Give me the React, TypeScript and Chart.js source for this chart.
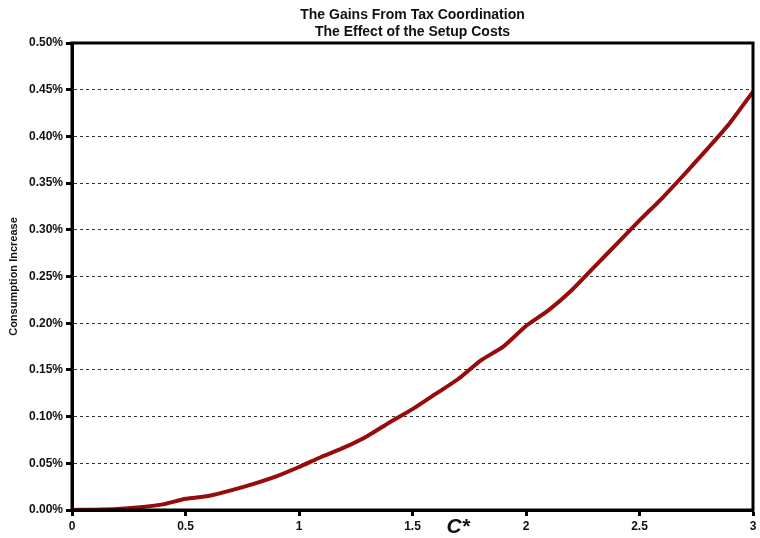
import { useEffect, useRef } from "react";
import { Chart, registerables } from "chart.js";

Chart.register(...registerables);

const titleLines = ["The Gains From Tax Coordination", "The Effect of the Setup Costs"];
const xAxisTitle = "C*";
const yAxisTitle = "Consumption Increase";

// setup cost C* (x) and consumption increase in percent (y)
const setupCost = [
  0, 0.1, 0.2, 0.3, 0.4, 0.5, 0.6, 0.7, 0.8, 0.9, 1.0,
  1.1, 1.2, 1.3, 1.4, 1.5, 1.6, 1.7, 1.8, 1.9, 2.0,
  2.1, 2.2, 2.3, 2.4, 2.5, 2.6, 2.7, 2.8, 2.9, 3.0,
];
const consumptionIncrease = [
  0, 0.0003, 0.001, 0.003, 0.006, 0.012, 0.015, 0.021, 0.028, 0.036, 0.046,
  0.057, 0.067, 0.079, 0.094, 0.108, 0.124, 0.14, 0.16, 0.175, 0.197,
  0.214, 0.235, 0.26, 0.285, 0.31, 0.334, 0.36, 0.387, 0.415, 0.448,
];

const FONT = "'Liberation Sans', Arial, Helvetica, sans-serif";

export default function App() {
  const ref = useRef<HTMLCanvasElement>(null);

  useEffect(() => {
    if (!ref.current) return;
    const framePlugin = {
      id: "frame",
      afterDatasetsDraw(chart: any) {
        const { ctx, chartArea } = chart;
        ctx.save();
        ctx.strokeStyle = "#000";
        ctx.lineWidth = 3;
        ctx.strokeRect(chartArea.left, chartArea.top, chartArea.right - chartArea.left, chartArea.bottom - chartArea.top);
        ctx.restore();
      },
    };
    const xTitlePlugin = {
      id: "xTitle",
      afterDraw(chart: any) {
        const { ctx, chartArea } = chart;
        ctx.save();
        ctx.font = `italic bold 21px ${FONT}`;
        ctx.fillStyle = "#111";
        ctx.textAlign = "center";
        ctx.textBaseline = "middle";
        const x = chartArea.left + (chartArea.right - chartArea.left) * 0.567;
        ctx.fillText(xAxisTitle, x, chartArea.bottom + 17);
        ctx.restore();
      },
    };

    const chart = new Chart(ref.current, {
      type: "line",
      data: {
        datasets: [
          {
            data: setupCost.map((x, i) => ({ x, y: consumptionIncrease[i] })),
            borderColor: "#960b0b",
            borderWidth: 4,
            pointRadius: 0,
            tension: 0.2,
            fill: false,
          },
        ],
      },
      options: {
        animation: false,
        responsive: true,
        maintainAspectRatio: false,
        layout: { padding: { left: 0, right: 7, top: 0, bottom: 0 } },
        plugins: {
          legend: { display: false },
          tooltip: { enabled: false },
          title: {
            display: true,
            fullSize: false,
            text: titleLines,
            color: "#111",
            font: { family: FONT, size: 14, weight: "bold", lineHeight: 1.2 },
            padding: { top: 7, bottom: 2.4 },
          },
        },
        scales: {
          x: {
            type: "linear",
            min: 0,
            max: 3,
            afterFit: (s: any) => { s.height = 28; },
            ticks: {
              stepSize: 0.5,
              color: "#111",
              padding: 3,
              maxRotation: 0,
              font: { family: FONT, size: 12, weight: "bold" },
              callback: (v: any) => String(Number(v)),
            },
            grid: {
              drawOnChartArea: false,
              drawTicks: true,
              tickLength: 6,
              tickWidth: 3,
              tickColor: "#000",
            },
            border: { display: true, color: "#000", width: 3 },
          },
          y: {
            type: "linear",
            min: 0,
            max: 0.5,
            afterFit: (s: any) => { s.width = 72; },
            ticks: {
              stepSize: 0.05,
              color: "#111",
              padding: 3,
              font: { family: FONT, size: 12, weight: "bold" },
              callback: (v: any) => Number(v).toFixed(2) + "%",
            },
            grid: {
              color: "#333",
              lineWidth: 1,
              drawTicks: true,
              tickLength: 6,
              tickWidth: 3,
              tickColor: "#000",
              tickBorderDash: [],
            },
            border: { display: true, color: "#000", width: 3, dash: [3, 3] },
            title: {
              display: true,
              text: yAxisTitle,
              color: "#111",
              font: { family: FONT, size: 11, weight: "bold" },
              padding: { top: 7, bottom: 0 },
            },
          },
        },
      },
      plugins: [framePlugin, xTitlePlugin],
    });
    return () => chart.destroy();
  }, []);

  return (
    <div style={{ position: "absolute", left: 0, top: 0, width: 760, height: 538, background: "#fff" }}>
      <canvas ref={ref} />
    </div>
  );
}
